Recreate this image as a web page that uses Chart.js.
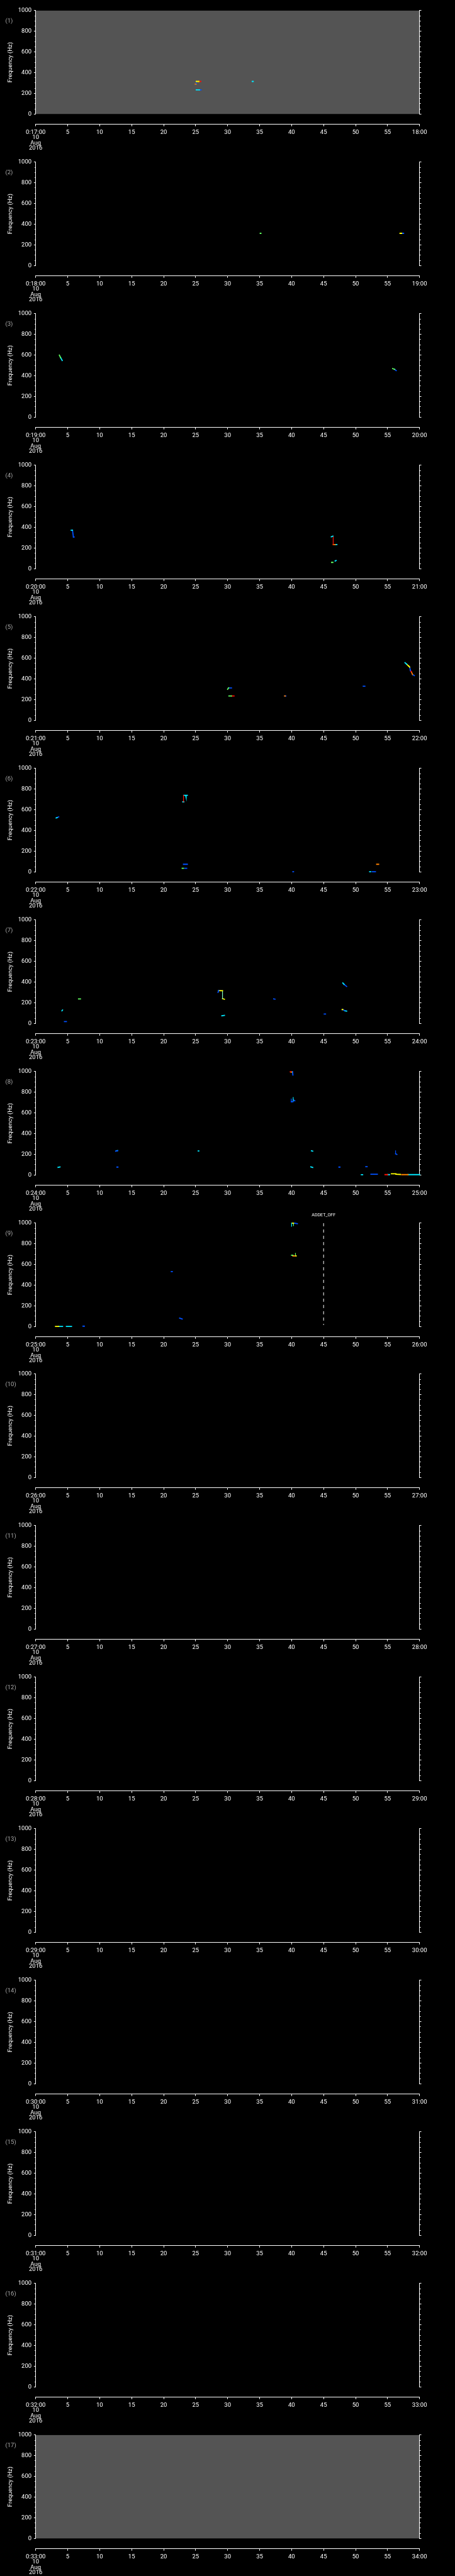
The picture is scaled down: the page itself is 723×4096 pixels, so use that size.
<!DOCTYPE html>
<html><head><meta charset="utf-8">
<script src="https://cdn.jsdelivr.net/npm/chart.js@4"></script>
<style>
html,body{margin:0;padding:0;background:#000;}
#wrap{position:relative;width:723px;height:4096px;overflow:hidden;background:#000;}
canvas{position:absolute;left:0;}
</style></head><body><div id="wrap"></div>
<script>
// ---------- data ----------
const panelLabels = ['(1)','(2)','(3)','(4)','(5)','(6)','(7)','(8)','(9)','(10)','(11)','(12)','(13)','(14)','(15)','(16)','(17)'];
const startLabels = ['0:17:00','0:18:00','0:19:00','0:20:00','0:21:00','0:22:00','0:23:00','0:24:00','0:25:00','0:26:00','0:27:00','0:28:00','0:29:00','0:30:00','0:31:00','0:32:00','0:33:00'];
const endLabels = ['18:00','19:00','20:00','21:00','22:00','23:00','24:00','25:00','26:00','27:00','28:00','29:00','30:00','31:00','32:00','33:00','34:00'];
const dateLines = ['10','Aug','2016'];
const xTickMinutes = [0,5,10,15,20,25,30,35,40,45,50,55,60];
const yTickValues = [0,50,100,150,200,250,300,350,400,450,500,550,600,650,700,750,800,850,900,950,1000];
const yMajorTicks = [0,200,400,600,800,1000];
const greyPanels = [1,17];
const eventPanel = 9;
const eventMinute = 45;
const eventLabel = 'ADDET_OFF';
const eventLine = [[45,1000],[45,16]];

// marks: [minuteStart, HzStart, minuteEnd, HzEnd, colour]
const marks1 = [
 [25.1,315,25.5,315,'yellow'],[25.5,315,25.8,315,'red'],[25.1,315,25.1,289,'blue'],
 [24.95,289,25.1,289,'orange'],[25.1,234,25.6,234,'cyan'],[25.6,234,25.85,234,'blue'],
 [33.85,315,34.0,315,'cyan']
];
const marks2 = [
 [35.1,312,35.2,312,'green'],[56.95,312,57.2,312,'yellow'],[57.2,312,57.5,312,'blue']
];
const marks3 = [
 [3.7,600,3.9,575,'green'],[3.9,575,4.15,548,'cyan'],
 [55.8,470,56.1,462,'green'],[56.1,462,56.35,450,'blue']
];
const marks4 = [
 [5.55,372,5.75,372,'cyan'],[5.75,372,5.9,306,'blue'],[5.9,306,6.0,306,'blue'],
 [46.2,309,46.45,315,'cyan'],[46.5,315,46.5,233,'red'],[46.5,233,46.8,233,'orange'],
 [46.8,233,47.07,233,'cyan'],[46.8,74,46.95,79,'cyan'],[46.25,61,46.45,61,'green']
];
const marks5 = [
 [30.0,299,30.15,313,'green'],[30.15,313,30.6,313,'blue'],[30.2,235,30.6,235,'green'],
 [30.6,235,31.0,235,'red'],[38.9,235,39.0,235,'orange'],[39.0,235,39.1,235,'blue'],
 [51.2,329,51.45,329,'blue'],
 [57.72,557,57.99,542,'cyan'],[57.99,542,58.29,525,'yellow'],[58.29,525,58.45,514,'yellow'],
 [58.45,514,58.57,480,'blue'],[58.57,480,58.72,468,'red'],[58.72,468,58.91,442,'orange'],
 [58.91,442,59.18,432,'blue']
];
const marks6 = [
 [3.2,521,3.35,525,'cyan'],[3.35,525,3.6,532,'blue'],[23.1,740,23.1,677,'red'],
 [23.15,740,23.4,740,'cyan'],[23.45,738,23.5,725,'cyan'],[23.55,740,23.7,740,'cyan'],
 [23.0,677,23.15,677,'cyan'],[23.1,73,23.7,73,'blue'],[22.9,34,23.1,34,'green'],
 [23.3,34,23.6,34,'blue'],[40.2,1,40.3,1,'blue'],[53.3,73,53.6,73,'orange'],
 [52.2,1,52.35,1,'cyan'],[52.6,1,53.1,1,'blue']
];
const marks7 = [
 [4.1,122,4.2,130,'cyan'],[4.5,17,4.8,17,'blue'],[6.7,237,7.0,237,'green'],
 [28.5,300,28.6,318,'blue'],[28.6,317,29.2,316,'yellow'],[29.2,316,29.2,240,'mint'],
 [29.2,240,29.5,233,'yellow'],[29.1,74,29.5,78,'cyan'],[37.2,237,37.4,235,'blue'],
 [45.1,91,45.3,91,'blue'],[48.0,391,48.2,378,'cyan'],[48.2,378,48.6,357,'blue'],
 [47.9,134,48.0,134,'yellow'],[48.0,132,48.3,125,'blue'],[48.3,122,48.6,119,'cyan']
];
const marks8 = [
 [39.8,998,39.9,998,'red'],[39.9,996,40.0,996,'yellow'],[40.15,1000,40.2,967,'blue'],
 [39.95,735,39.95,709,'blue'],[39.95,709,40.2,709,'blue'],[40.25,749,40.25,713,'cyan'],
 [40.3,725,40.5,718,'blue'],[12.5,230,12.8,234,'blue'],[12.6,234,12.8,236,'cyan'],
 [25.4,232,25.5,232,'cyan'],[43.1,234,43.3,231,'cyan'],[56.25,234,56.25,205,'blue'],
 [56.25,205,56.45,199,'blue'],[3.5,74,3.8,77,'cyan'],[12.7,76,12.85,76,'blue'],
 [43.0,78,43.3,72,'cyan'],[47.4,76,47.55,76,'blue'],[51.6,80,51.8,80,'blue'],
 [50.9,2,51.1,2,'cyan'],[52.4,7,53.4,7,'blue'],[54.6,3,55.0,3,'red'],[55.0,3,55.3,3,'cyan'],
 [55.6,12,56.3,12,'yellow'],[56.3,7,57.0,5,'yellow'],[57.2,3,58.2,3,'orange'],[58.2,3,60,3,'cyan']
];
const marks9 = [
 [40.0,1000,40.0,969,'cyan'],[40.05,1000,40.3,1000,'yellow'],[40.3,1000,40.3,975,'green'],
 [40.45,1000,40.9,995,'blue'],[40.0,690,40.2,690,'green'],[40.2,683,40.5,683,'orange'],
 [40.6,709,40.6,683,'green'],[40.6,683,40.7,683,'yellow'],[21.2,532,21.35,532,'blue'],
 [3.1,1,3.6,1,'yellow'],[3.6,1,4.2,1,'cyan'],[4.8,1,5.6,1,'cyan'],[7.4,3,7.6,3,'blue'],
 [22.5,81,22.9,73,'blue']
];
const panelMarks = [marks1,marks2,marks3,marks4,marks5,marks6,marks7,marks8,marks9,[],[],[],[],[],[],[],[]];
const markColors = {blue:'#0050ff',cyan:'#00e8ff',green:'#60ff60',mint:'#80ffc0',yellow:'#ffff00',orange:'#ff8000',red:'#ff1000'};

// ---------- layout (scaled 0.706) ----------
const PANEL_H = 4096/17;
const TOP_PAD = 16.9;
const LEFT_W = 56.7;
const RIGHT_W = 723 - 666.7;
const GAP_H = 16.7;
const PLOT_H = 164.3;
const X2_H = PANEL_H - TOP_PAD - PLOT_H - GAP_H;
const FONT = 'Roboto, "Liberation Sans", "DejaVu Sans", sans-serif';

const overlay = {
  id:'overlay',
  beforeDraw(chart, args, o){
    if(o.grey){
      const a = chart.chartArea, ctx = chart.ctx;
      ctx.save(); ctx.fillStyle = '#545454';
      ctx.fillRect(a.left, a.top, a.right - a.left, a.bottom - a.top);
      ctx.restore();
    }
  },
  afterDraw(chart, args, o){
    const ctx = chart.ctx;
    ctx.save();
    ctx.fillStyle = '#a8a8a8';
    ctx.font = '9.5px ' + FONT;
    ctx.textAlign = 'left'; ctx.textBaseline = 'middle';
    ctx.fillText(o.label, 8.5, 33.8);
    if(o.event){
      ctx.fillStyle = '#ffffff';
      ctx.font = '7px ' + FONT;
      ctx.textAlign = 'center';
      ctx.fillText(eventLabel, chart.scales.x.getPixelForValue(eventMinute), 4.5);
    }
    ctx.restore();
  }
};

const wrap = document.getElementById('wrap');
const minorDashL = [0,1.2,1.6,10];
const minorDashR = [1.6,10];

for(let p=0;p<17;p++){
  const cv = document.createElement('canvas');
  cv.width = 723; cv.height = Math.ceil(PANEL_H);
  cv.style.top = (p*PANEL_H).toFixed(2) + 'px';
  wrap.appendChild(cv);
  const datasets = panelMarks[p].map(m => ({
    data:[{x:m[0],y:m[1]},{x:m[2],y:m[3]}],
    borderColor: markColors[m[4]], backgroundColor: markColors[m[4]],
    borderWidth: m[0]===m[2] ? 1.2 : 1.8, borderCapStyle:'square',
    pointRadius:0, tension:0, clip:3
  }));
  if(p+1 === eventPanel){
    datasets.push({
      data: eventLine.map(d => ({x:d[0], y:d[1]})),
      borderColor:'#ffffff', borderWidth:1, borderDash:[5,5], pointRadius:0, clip:3
    });
  }
  new Chart(cv, {
    type:'line',
    data:{datasets},
    options:{
      responsive:false, animation:false, devicePixelRatio:1, events:[],
      layout:{padding:{top:TOP_PAD,left:0,right:0,bottom:0}},
      plugins:{legend:{display:false}, tooltip:{enabled:false},
        overlay:{grey: greyPanels.includes(p+1), label: panelLabels[p], event: (p+1)===eventPanel}},
      scales:{
        x:{type:'linear', position:'bottom', min:0, max:60, weight:0,
          grid:{display:false}, border:{display:false}, ticks:{display:false},
          afterFit(s){ s.height = GAP_H; }},
        x2:{type:'linear', position:'bottom', min:0, max:60, weight:1,
          grid:{drawOnChartArea:false, drawTicks:true, tickLength:2.8, color:'#ffffff', tickColor:'#ffffff'},
          border:{display:true, color:'#ffffff', width:1, dash:[]},
          afterBuildTicks(s){ s.ticks = xTickMinutes.map(v => ({value:v})); },
          ticks:{autoSkip:false, maxRotation:0, minRotation:0, padding:5.7, color:'#ffffff',
            font:{family:FONT, size:9.5, lineHeight:'8.4px'},
            callback:(v) => v===0 ? [startLabels[p]].concat(dateLines) : (v===60 ? endLabels[p] : String(v))},
          afterFit(s){ s.height = X2_H; }},
        y:{type:'linear', position:'left', min:0, max:1000,
          afterBuildTicks(s){ s.ticks = yTickValues.map(v => ({value:v})); },
          grid:{drawOnChartArea:false, tickLength:2.8, color:'#ffffff', tickColor:'#ffffff',
            tickBorderDash:(c) => (c.tick && yMajorTicks.includes(c.tick.value)) ? [] : minorDashL},
          border:{display:true, color:'#ffffff', width:1, dash:[]},
          ticks:{autoSkip:false, padding:3.8, color:'#ffffff', font:{family:FONT, size:9.5},
            callback:(v) => yMajorTicks.includes(v) ? String(v) : ''},
          title:{display:true, text:'Frequency (Hz)', color:'#ffffff', font:{family:FONT, size:9.5}, padding:{top:10.5,bottom:0}},
          afterFit(s){ s.width = LEFT_W; }},
        y2:{type:'linear', position:'right', min:0, max:1000,
          afterBuildTicks(s){ s.ticks = yTickValues.map(v => ({value:v})); },
          grid:{drawOnChartArea:false, tickLength:2.8, color:'#ffffff', tickColor:'#ffffff',
            tickBorderDash:(c) => (c.tick && yMajorTicks.includes(c.tick.value)) ? [] : minorDashR},
          border:{display:true, color:'#ffffff', width:1, dash:[]},
          ticks:{autoSkip:false, padding:0, callback:() => ''},
          afterFit(s){ s.width = RIGHT_W; }}
      }
    },
    plugins:[overlay]
  });
}
</script></body></html>
